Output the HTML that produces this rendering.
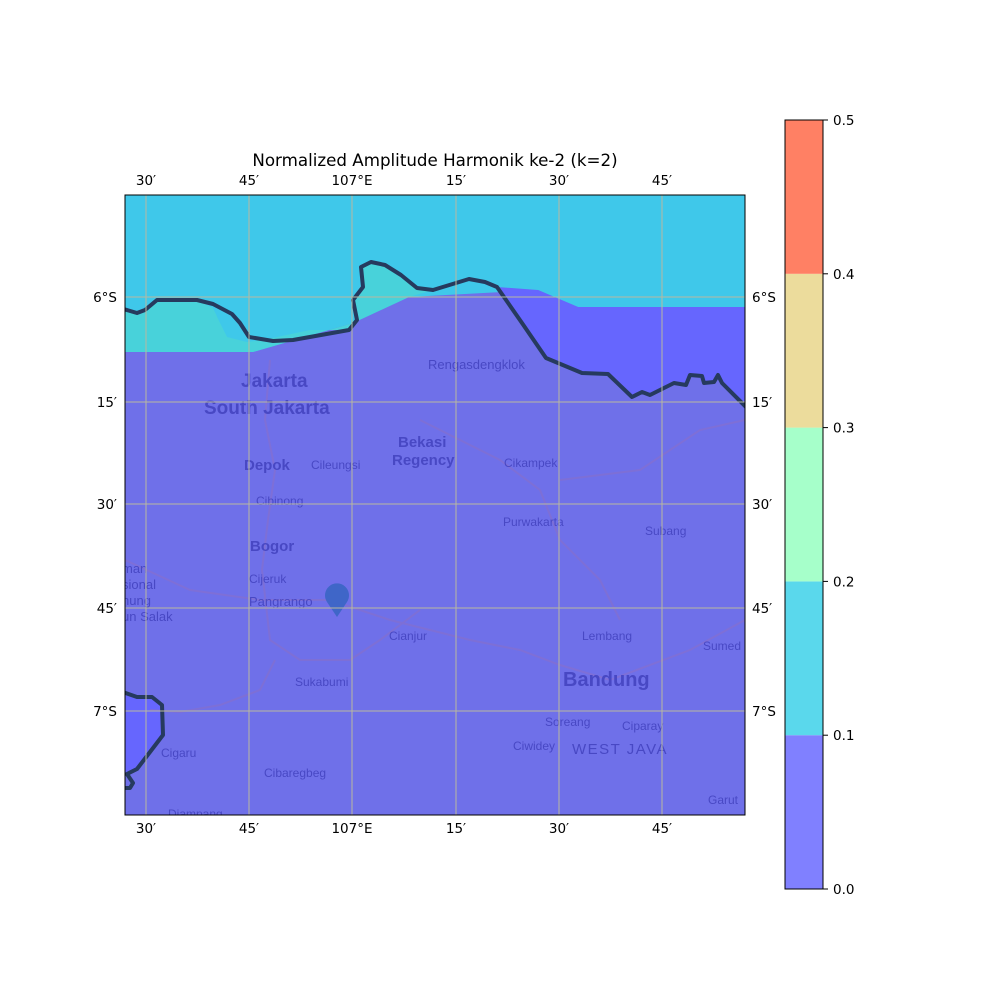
<!DOCTYPE html>
<html><head><meta charset="utf-8">
<style>
body{margin:0;background:#fff;}
svg{display:block;font-family:"DejaVu Sans","Liberation Sans",sans-serif;}
.ml{font-family:"Liberation Sans",sans-serif;}
</style></head>
<body>
<svg id="fig" width="1000" height="1000" viewBox="0 0 1000 1000">
<defs><clipPath id="mapclip"><rect x="125" y="195" width="620" height="620"/></clipPath></defs>
<text x="435" y="166" font-size="16.7" text-anchor="middle">Normalized Amplitude Harmonik ke-2 (k=2)</text>
<g clip-path="url(#mapclip)">
  <rect x="125" y="195" width="620" height="620" fill="#6f70e9"/>
  <path d="M125,195 L745,195 L745,307 L578,307 L538,290 L409,297 L353,323 L253,352 L125,352 Z" fill="#3fc8ea"/>
  <path d="M125,352 L253,352 L353,323 L349,330 L310,330 L263,340 L247,342 L227,337 L220,323 L213,308 L197,300 L157,300 L137,313 L125,310 Z" fill="#48d2da"/>
  <path d="M353,323 L409,297 L433,290 L417,288 L401,275 L385,265 L371,262 L361,267 L363,282 L353,300 L357,320 Z" fill="#48d2da"/>
  <path d="M497,287 L522,323 L546,358 L582,373 L608,374 L632,397 L642,392 L650,395 L674,383 L686,385 L690,375 L702,376 L704,383 L714,382 L718,375 L722,383 L746,407 L745,307 L578,307 L538,290 Z" fill="#6666fe"/>
  <path d="M125,692 L137,697 L152,697 L162,705 L163,735 L150,752 L137,769 L127,774 L125,776 Z" fill="#6666fe"/>
  <g fill="none" stroke="#8a6fc8" stroke-width="2" opacity="0.55">
    <path d="M270,360 L265,420 L275,470 L268,520 L262,570 L270,640 L300,660 L350,660 L380,640 L420,610"/>
    <path d="M125,560 L190,590 L260,600 L330,600 L390,620 L470,640 L520,650 L560,665 L610,680 L690,650 L745,620"/>
    <path d="M420,420 L500,460 L540,490 L560,540 L600,580 L620,620"/>
    <path d="M150,710 L180,712 L220,705 L260,690 L275,660"/>
    <path d="M560,480 L640,470 L700,430 L745,420"/>
  </g>
  <g fill="#4848c4" class="ml">
    <text x="428" y="369" font-size="13">Rengasdengklok</text>
    <text x="241" y="387" font-size="19" font-weight="bold">Jakarta</text>
    <text x="204" y="414" font-size="19" font-weight="bold">South Jakarta</text>
    <text x="398" y="447" font-size="15" font-weight="bold">Bekasi</text>
    <text x="392" y="465" font-size="15" font-weight="bold">Regency</text>
    <text x="244" y="470" font-size="15" font-weight="bold">Depok</text>
    <text x="311" y="469" font-size="12">Cileungsi</text>
    <text x="504" y="467" font-size="12">Cikampek</text>
    <text x="256" y="505" font-size="12">Cibinong</text>
    <text x="503" y="526" font-size="12">Purwakarta</text>
    <text x="645" y="535" font-size="12">Subang</text>
    <text x="250" y="551" font-size="15" font-weight="bold">Bogor</text>
    <text x="122" y="573" font-size="13">man</text>
    <text x="122" y="589" font-size="13">sional</text>
    <text x="122" y="605" font-size="13">hung</text>
    <text x="122" y="621" font-size="13">un Salak</text>
    <text x="249" y="583" font-size="12">Cijeruk</text>
    <text x="249" y="606" font-size="13">Pangrango</text>
    <text x="389" y="640" font-size="12">Cianjur</text>
    <text x="582" y="640" font-size="12">Lembang</text>
    <text x="703" y="650" font-size="12">Sumed</text>
    <text x="563" y="686" font-size="20" font-weight="bold">Bandung</text>
    <text x="295" y="686" font-size="12">Sukabumi</text>
    <text x="545" y="726" font-size="12">Soreang</text>
    <text x="622" y="730" font-size="12">Ciparay</text>
    <text x="513" y="750" font-size="12">Ciwidey</text>
    <text x="572" y="754" font-size="15" letter-spacing="1.5">WEST JAVA</text>
    <text x="161" y="757" font-size="12">Cigaru</text>
    <text x="264" y="777" font-size="12">Cibaregbeg</text>
    <text x="708" y="804" font-size="12">Garut</text>
    <text x="168" y="818" font-size="12">Djampang</text>
  </g>
  <path d="M337,617 L327,602 A12,12 0 1,1 347,602 Z" fill="#3f66c8"/>
  <g fill="none" stroke="#263a5e" stroke-width="4" stroke-linejoin="round">
    <path d="M120,308 L137,313 L145,310 L157,300 L197,300 L213,304 L232,314 L240,323 L249,337 L273,341 L293,340 L349,330 L357,320 L353,300 L363,287 L361,267 L371,262 L385,265 L401,275 L417,288 L433,290 L469,279 L485,282 L497,287 L522,323 L546,358 L582,373 L608,374 L632,397 L642,392 L650,395 L674,383 L686,385 L690,375 L702,376 L704,383 L714,382 L718,375 L722,383 L748,409"/>
    <path d="M120,691 L137,697 L152,697 L162,705 L163,735 L150,752 L137,769 L127,774 L133,783 L130,788 L120,788"/>
  </g>
  <g stroke="#b8b8a0" stroke-width="1">
    <line x1="146" y1="195" x2="146" y2="815"/><line x1="249" y1="195" x2="249" y2="815"/>
    <line x1="352" y1="195" x2="352" y2="815"/><line x1="456" y1="195" x2="456" y2="815"/>
    <line x1="559" y1="195" x2="559" y2="815"/><line x1="662" y1="195" x2="662" y2="815"/>
    <line x1="125" y1="297" x2="745" y2="297"/><line x1="125" y1="402" x2="745" y2="402"/>
    <line x1="125" y1="504" x2="745" y2="504"/><line x1="125" y1="608" x2="745" y2="608"/>
    <line x1="125" y1="711" x2="745" y2="711"/>
  </g>
</g>
<rect x="125" y="195" width="620" height="620" fill="none" stroke="#000" stroke-width="1"/>
<g font-size="13.5" fill="#000">
  <text x="146" y="185" text-anchor="middle">30′</text><text x="249" y="185" text-anchor="middle">45′</text>
  <text x="352" y="185" text-anchor="middle">107°E</text><text x="456" y="185" text-anchor="middle">15′</text>
  <text x="559" y="185" text-anchor="middle">30′</text><text x="662" y="185" text-anchor="middle">45′</text>
</g>
<g font-size="13.5" fill="#000">
  <text x="146" y="833" text-anchor="middle">30′</text><text x="249" y="833" text-anchor="middle">45′</text>
  <text x="352" y="833" text-anchor="middle">107°E</text><text x="456" y="833" text-anchor="middle">15′</text>
  <text x="559" y="833" text-anchor="middle">30′</text><text x="662" y="833" text-anchor="middle">45′</text>
</g>
<g font-size="13.5" fill="#000" text-anchor="end">
  <text x="117" y="302">6°S</text><text x="117" y="407">15′</text><text x="117" y="509">30′</text>
  <text x="117" y="613">45′</text><text x="117" y="716">7°S</text>
</g>
<g font-size="13.5" fill="#000">
  <text x="752" y="302">6°S</text><text x="752" y="407">15′</text><text x="752" y="509">30′</text>
  <text x="752" y="613">45′</text><text x="752" y="716">7°S</text>
</g>
<g id="cbar"></g>
</svg>
<script>
const levels = [0.0, 0.1, 0.2, 0.3, 0.4, 0.5];
const levelColors = ["#8080ff", "#5ad8ec", "#a6ffca", "#ecdc9c", "#ff8064"];
const tickLabels = ["0.0", "0.1", "0.2", "0.3", "0.4", "0.5"];
const NS = "http://www.w3.org/2000/svg";
const cb = document.getElementById("cbar");
const cbX = 785, cbW = 38, cbTop = 120, cbBot = 889;
function yScale(v){ return cbBot - (v - levels[0]) / (levels[levels.length-1] - levels[0]) * (cbBot - cbTop); }
for (let i = 0; i < levelColors.length; i++) {
  const r = document.createElementNS(NS, "rect");
  r.setAttribute("x", cbX); r.setAttribute("width", cbW);
  r.setAttribute("y", yScale(levels[i+1])); r.setAttribute("height", yScale(levels[i]) - yScale(levels[i+1]));
  r.setAttribute("fill", levelColors[i]);
  
  
  cb.appendChild(r);
}
const fr = document.createElementNS(NS, "rect");
fr.setAttribute("x", cbX); fr.setAttribute("y", cbTop); fr.setAttribute("width", cbW); fr.setAttribute("height", cbBot - cbTop);
fr.setAttribute("fill", "none"); fr.setAttribute("stroke", "#000");


cb.appendChild(fr);
for (let i = 0; i < tickLabels.length; i++) {
  const y = yScale(levels[i]);
  const t = document.createElementNS(NS, "line");
  t.setAttribute("x1", cbX + cbW); t.setAttribute("x2", cbX + cbW + 5); t.setAttribute("y1", y); t.setAttribute("y2", y);
  t.setAttribute("stroke", "#000");
  
  
  cb.appendChild(t);
  const tx = document.createElementNS(NS, "text");
  tx.setAttribute("x", cbX + cbW + 10); tx.setAttribute("y", y + 5);
  tx.setAttribute("font-size", "13.5");
  tx.textContent = tickLabels[i];
  
  
  cb.appendChild(tx);
}
</script>
</body></html>
